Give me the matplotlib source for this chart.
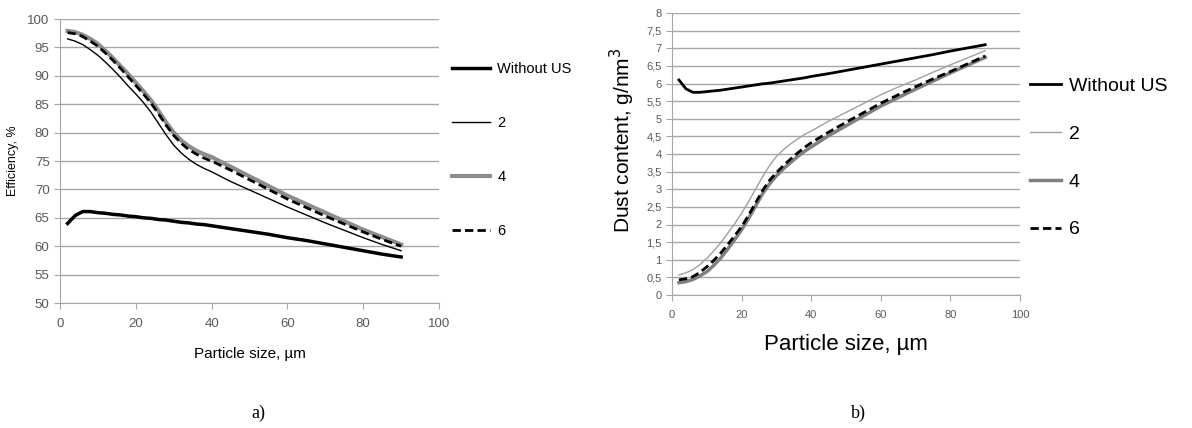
import matplotlib.pyplot as plt

plt.rcParams['font.family'] = ['Liberation Sans', 'DejaVu Sans']

# particle size, um (same for both panels)
size = [2, 4, 6, 8, 10, 12, 14, 16, 18, 20, 22, 24, 26, 28, 30,
        32, 34, 36, 38, 40, 45, 50, 55, 60, 65, 70, 75, 80, 85, 90]

# a) efficiency, %
eff_without = [64.0, 65.4, 66.1, 66.1, 65.9, 65.8, 65.6, 65.5, 65.3, 65.2, 65.0, 64.9, 64.7, 64.6, 64.4,
               64.2, 64.1, 63.9, 63.8, 63.6, 63.1, 62.6, 62.1, 61.5, 61.0, 60.4, 59.8, 59.2, 58.6, 58.1]
eff_2 = [96.5, 96.1, 95.5, 94.6, 93.6, 92.4, 91.1, 89.7, 88.2, 86.8, 85.3, 83.6, 81.6, 79.6, 77.8,
         76.4, 75.3, 74.4, 73.7, 73.1, 71.4, 69.9, 68.4, 66.9, 65.5, 64.1, 62.8, 61.5, 60.3, 59.2]
eff_4 = [97.9, 97.7, 97.2, 96.5, 95.6, 94.4, 93.1, 91.7, 90.3, 88.8, 87.3, 85.7, 83.8, 81.8, 80.0,
         78.6, 77.6, 76.8, 76.2, 75.7, 74.0, 72.3, 70.6, 68.9, 67.4, 65.9, 64.4, 62.9, 61.6, 60.3]
eff_6 = [97.6, 97.4, 96.9, 96.1, 95.2, 94.0, 92.7, 91.3, 89.8, 88.3, 86.8, 85.2, 83.3, 81.3, 79.5,
         78.1, 77.0, 76.2, 75.5, 75.0, 73.4, 71.7, 70.0, 68.3, 66.8, 65.3, 63.9, 62.5, 61.2, 60.0]

# b) dust content, g/nm3
dust_without = [6.1, 5.85, 5.75, 5.75, 5.77, 5.79, 5.81, 5.84, 5.87, 5.9, 5.93, 5.96, 5.99, 6.01, 6.04,
                6.07, 6.1, 6.13, 6.16, 6.2, 6.28, 6.37, 6.46, 6.55, 6.64, 6.73, 6.82, 6.92, 7.01, 7.1]
dust_2 = [0.57, 0.63, 0.72, 0.86, 1.04, 1.25, 1.48, 1.75, 2.02, 2.32, 2.65, 3.0, 3.35, 3.67, 3.93,
          4.12, 4.28, 4.42, 4.55, 4.65, 4.93, 5.18, 5.43, 5.68, 5.9, 6.1, 6.32, 6.53, 6.73, 6.93]
dust_4 = [0.35, 0.38, 0.44, 0.54, 0.66, 0.84, 1.05, 1.3, 1.57, 1.85, 2.17, 2.52, 2.87, 3.15, 3.38,
          3.58, 3.75, 3.92, 4.07, 4.2, 4.52, 4.8, 5.08, 5.36, 5.6, 5.84, 6.07, 6.3, 6.52, 6.74]
dust_6 = [0.43, 0.46, 0.52, 0.64, 0.8, 0.98, 1.19, 1.43, 1.68, 1.94, 2.26, 2.61, 2.96, 3.25, 3.47,
          3.67, 3.85, 4.02, 4.18, 4.32, 4.62, 4.9, 5.17, 5.44, 5.68, 5.91, 6.13, 6.34, 6.56, 6.78]

labels = ['Without US', '2', '4', '6']

grid_col = '#a6a6a6'
tick_col = '#595959'


def style_axes(ax):
    ax.spines['top'].set_visible(False)
    ax.spines['right'].set_visible(False)
    ax.spines['left'].set_color(grid_col)
    ax.spines['bottom'].set_color(grid_col)
    ax.yaxis.grid(True, color=grid_col, linewidth=1)
    ax.set_axisbelow(True)
    ax.tick_params(colors=grid_col, labelcolor=tick_col, length=4)


fig = plt.figure(figsize=(11.92, 4.28), dpi=100)

# ---- a) ----
ax1 = fig.add_axes([60 / 1192, 125 / 428, 379 / 1192, 284 / 428])
style_axes(ax1)
ax1.tick_params(labelsize=9.5)
ax1.tick_params(axis='x', pad=7)
l1, = ax1.plot(size, eff_without, color='black', lw=2.5)
l2, = ax1.plot(size, eff_2, color='black', lw=1)
l3, = ax1.plot(size, eff_4, color='#8c8c8c', lw=3)
l4, = ax1.plot(size, eff_6, color='black', lw=2, dashes=(3, 1.5))
ax1.set_xlim(0, 100)
ax1.set_ylim(50, 100)
ax1.set_xticks(range(0, 101, 20))
ax1.set_yticks(range(50, 101, 5))
ax1.set_xlabel('Particle size, µm', fontsize=11, labelpad=12)
ax1.set_ylabel('Efficiency, %', fontsize=9, labelpad=6)
fig.legend([l1, l2, l3, l4], labels, loc='center left',
           bbox_to_anchor=(452 / 1192, 278 / 428), frameon=False, fontsize=10.5,
           handlelength=2.6, handletextpad=0.5, labelspacing=2.75,
           borderpad=0, borderaxespad=0)

# ---- b) ----
ax2 = fig.add_axes([672 / 1192, 133 / 428, 348 / 1192, 282 / 428])
style_axes(ax2)
ax2.tick_params(labelsize=8)
ax2.tick_params(axis='x', pad=7)
m1, = ax2.plot(size, dust_without, color='black', lw=2)
m2, = ax2.plot(size, dust_2, color='#a0a0a0', lw=1)
m3, = ax2.plot(size, dust_4, color='#808080', lw=2.5)
m4, = ax2.plot(size, dust_6, color='black', lw=2, dashes=(3, 1.5))
ax2.set_xlim(0, 100)
ax2.set_ylim(0, 8)
ax2.set_xticks(range(0, 101, 20))
yt = [i * 0.5 for i in range(17)]
ax2.set_yticks(yt)
ax2.set_yticklabels([('%g' % v).replace('.', ',') for v in yt])
ax2.set_xlabel('Particle size, µm', fontsize=16, labelpad=10)
ax2.set_ylabel('Dust content, g/nm$^3$', fontsize=15)
ax2.yaxis.set_label_coords(-0.1, 0.55)
fig.legend([m1, m2, m3, m4], labels, loc='center left',
           bbox_to_anchor=(1030 / 1192, 270 / 428), frameon=False, fontsize=14,
           handlelength=1.6, handletextpad=0.4, labelspacing=1.55,
           borderpad=0, borderaxespad=0)

fig.text(258 / 1192, 1 - 413 / 428, 'a)', family='Liberation Serif', fontsize=13,
         ha='center', va='center')
fig.text(858 / 1192, 1 - 413 / 428, 'b)', family='Liberation Serif', fontsize=13,
         ha='center', va='center')

fig.savefig('out.png', dpi=100)
